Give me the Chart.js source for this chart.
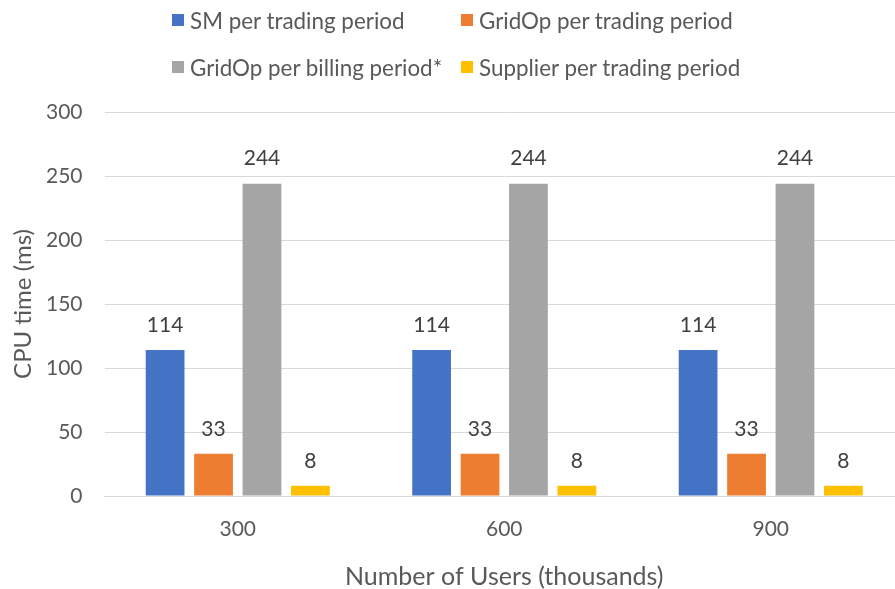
<!DOCTYPE html>
<html lang="en">
<head>
  <meta charset="UTF-8">
  <title>CPU time per period</title>
  <script src="https://cdn.jsdelivr.net/npm/chart.js"></script>
  <style>
    html, body {
      margin: 0;
      padding: 0;
      background: #ffffff;
      overflow: hidden;
      font-family: Lato, sans-serif;
    }
    #wrap {
      position: absolute;
      left: 0;
      top: 0;
      width: 904px;
      height: 589px;
    }
    #legend {
      position: absolute;
      left: 172px;
      top: 0;
      display: grid;
      grid-template-columns: 289px auto;
      row-gap: 19px;
      padding-top: 6px;
      font-size: 22.4px;
      color: #595959;
      z-index: 2;
    }
    .item {
      display: flex;
      align-items: center;
      height: 28px;
      white-space: nowrap;
    }
    .box {
      width: 12px;
      height: 12px;
      margin-right: 6px;
      flex: none;
    }
  </style>
</head>
<body>
  <div id="legend"></div>
  <div id="wrap"><canvas id="chart"></canvas></div>

  <script>
    const categories = ['300', '600', '900'];
    const seriesNames = ['SM per trading period', 'GridOp per trading period', 'GridOp per billing period*', 'Supplier per trading period'];
    const smTrading = [114, 114, 114];
    const gridOpTrading = [33, 33, 33];
    const gridOpBilling = [244, 244, 244];
    const supplierTrading = [8, 8, 8];
    const colors = ['#4472C4', '#ED7D31', '#A5A5A5', '#FFC000'];

    const allSeries = [smTrading, gridOpTrading, gridOpBilling, supplierTrading];

    // legend in html so the two columns line up like the original
    const legend = document.getElementById('legend');
    seriesNames.forEach((name, i) => {
      const el = document.createElement('div');
      el.className = 'item';
      el.innerHTML = `<span class="box" style="background:${colors[i]}"></span><span>${name}</span>`;
      legend.appendChild(el);
    });

    // numbers above the bars
    const barLabels = {
      id: 'barLabels',
      afterDatasetsDraw(chart) {
        const ctx = chart.ctx;
        ctx.save();
        ctx.font = '21px Lato, sans-serif';
        ctx.fillStyle = '#404040';
        ctx.textAlign = 'center';
        ctx.textBaseline = 'middle';
        chart.data.datasets.forEach((ds, i) => {
          chart.getDatasetMeta(i).data.forEach((bar, j) => {
            ctx.fillText(ds.data[j], bar.x, bar.y - 25);
          });
        });
        ctx.restore();
      }
    };

    new Chart(document.getElementById('chart').getContext('2d'), {
      type: 'bar',
      data: {
        labels: categories,
        datasets: allSeries.map((d, i) => ({
          label: seriesNames[i],
          data: d,
          backgroundColor: colors[i],
          borderWidth: 0,
          categoryPercentage: 0.727,
          barPercentage: 0.8
        }))
      },
      options: {
        responsive: true,
        maintainAspectRatio: false,
        animation: false,
        layout: { padding: { top: 112, left: 9, right: 0, bottom: 0 } },
        plugins: {
          legend: { display: false },
          tooltip: { enabled: false }
        },
        scales: {
          x: {
            grid: { display: false, drawTicks: false },
            border: { color: '#d9d9d9' },
            ticks: { color: '#595959', font: { family: 'Lato', size: 21 }, padding: 21 },
            title: {
              display: true,
              text: 'Number of Users (thousands)',
              color: '#595959',
              font: { family: 'Lato', size: 25, lineHeight: 1 },
              padding: 0
            },
            afterFit(scale) { scale.height = 93; }
          },
          y: {
            min: 0,
            max: 300,
            ticks: { stepSize: 50, color: '#595959', font: { family: 'Lato', size: 21 }, padding: 22 },
            grid: { color: '#d9d9d9', drawTicks: false },
            border: { display: false },
            title: {
              display: true,
              text: 'CPU time (ms)',
              color: '#595959',
              font: { family: 'Lato', size: 24 },
              padding: 0
            },
            afterFit(scale) { scale.width = 95.5; }
          }
        }
      },
      plugins: [barLabels]
    });
  </script>
</body>
</html>
